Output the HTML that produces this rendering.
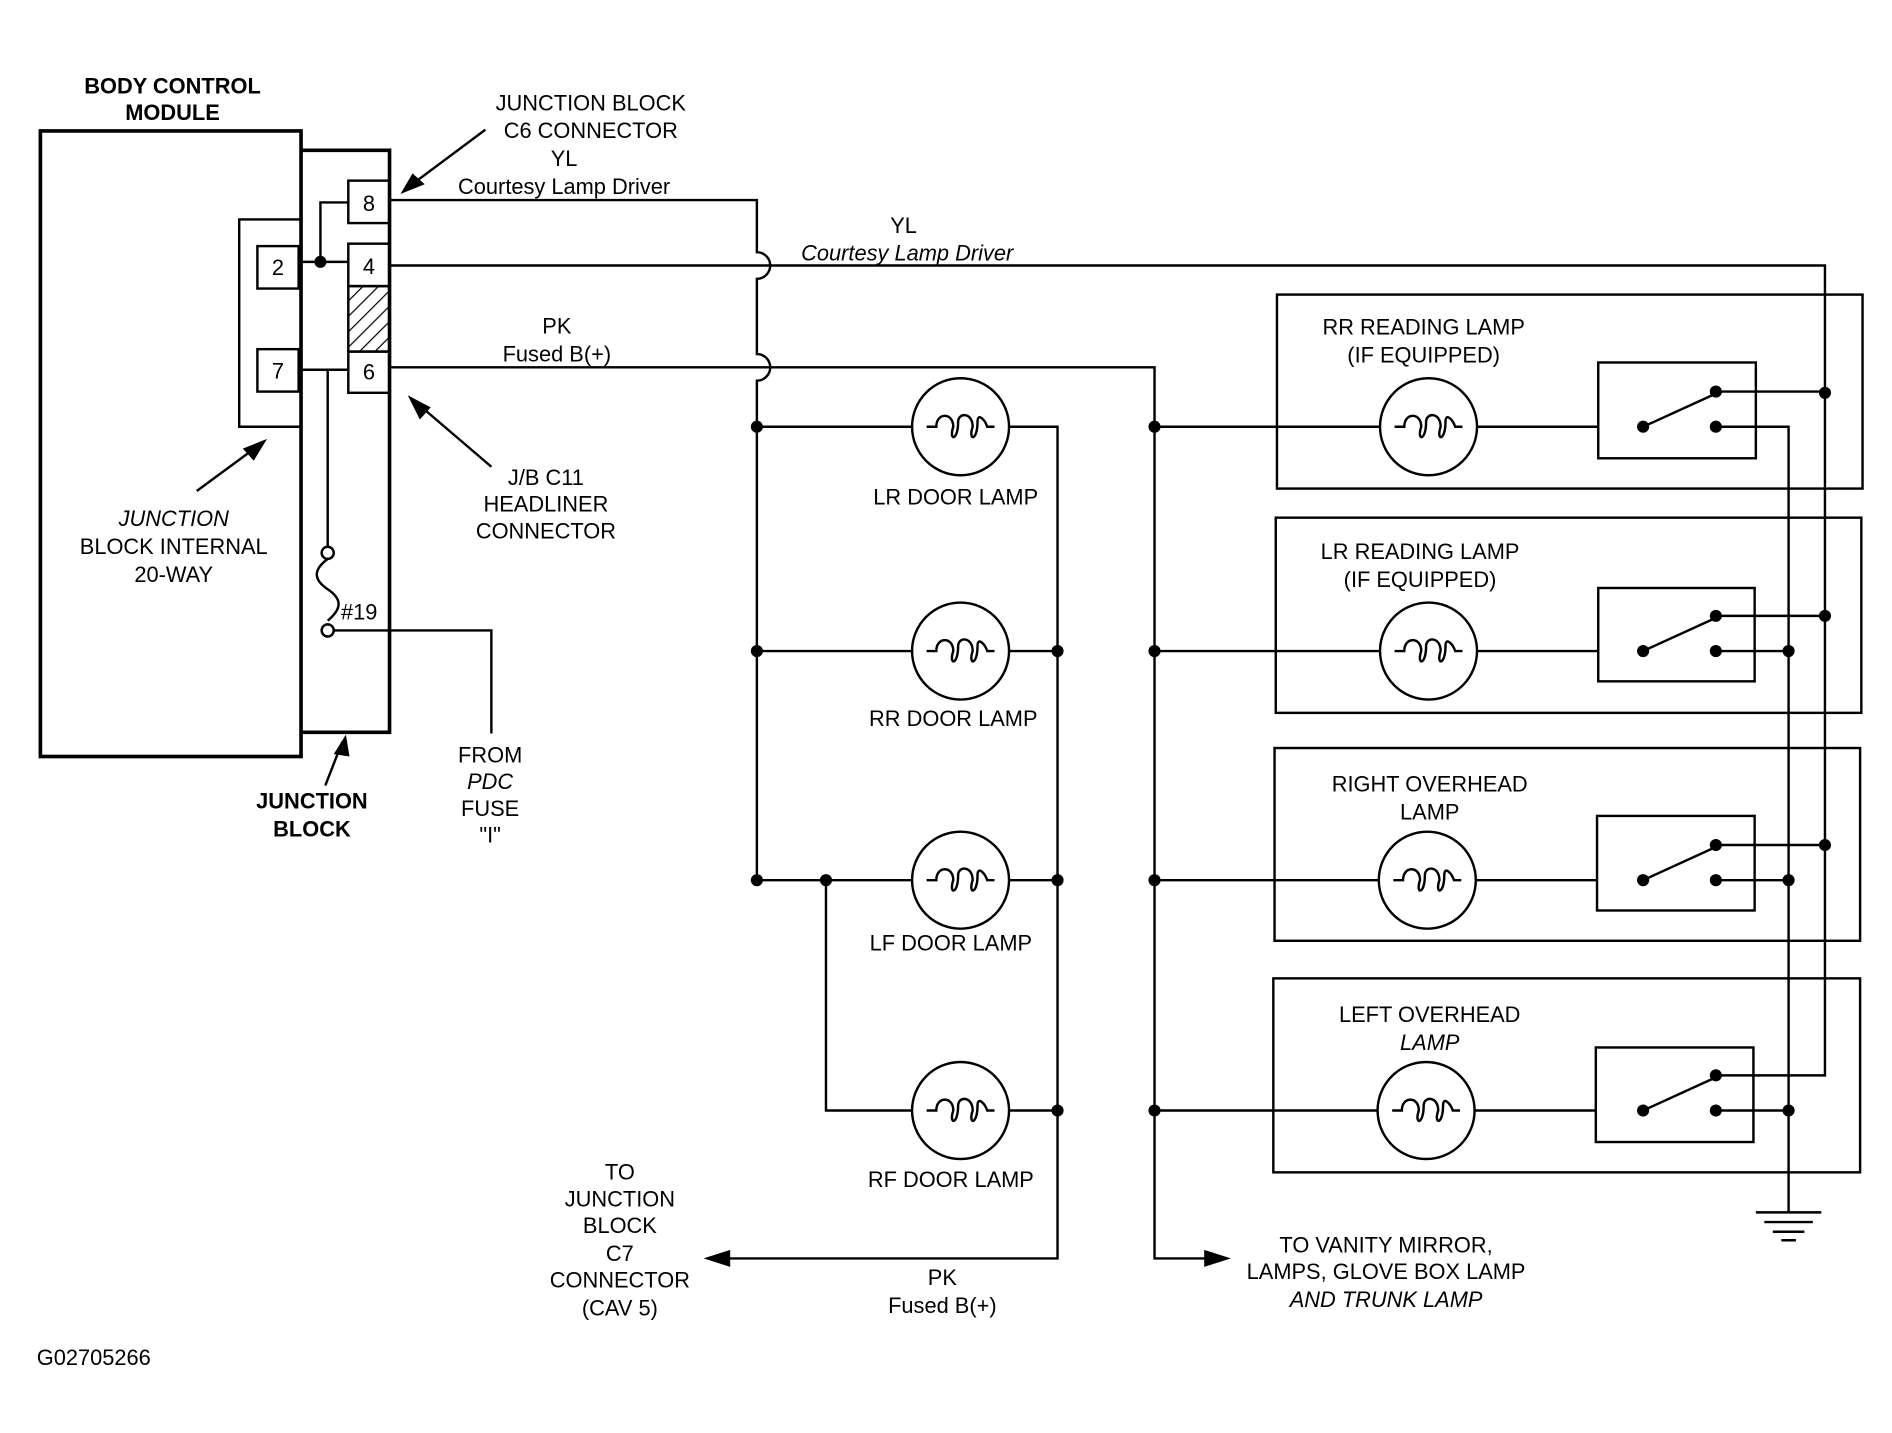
<!DOCTYPE html>
<html><head><meta charset="utf-8"><style>
html,body{margin:0;padding:0;background:#fff}
svg{display:block}
text{font-family:"Liberation Sans",Arial,sans-serif;font-size:18px;fill:#000;text-anchor:middle}
.b{font-weight:bold}
.i{font-style:italic}
</style></head><body>
<svg width="1892" height="1433" viewBox="0 0 1560 1182" xmlns="http://www.w3.org/2000/svg">
<defs>
<pattern id="h" width="9" height="9" patternUnits="userSpaceOnUse" patternTransform="rotate(45)"><line x1="0" y1="0" x2="0" y2="9" stroke="#000" stroke-width="2"/></pattern>
<g id="coil" fill="none" stroke="#000" stroke-width="2"><path d="M-28 0 H-20 C-20 -12 -6 -12 -6 0 C-10 12 -2 12 -2 -4 C-2 -12 10 -12 10 0 C6 12 14 12 14 -4 C14 -12 20 -6 22 0 H28"/></g>
</defs>
<g fill="none" stroke="#000" stroke-width="2">
<!-- BCM -->
<rect x="33" y="108" width="215" height="516" stroke-width="3"/>
<path d="M248 124 H321 V604 H248" stroke-width="3"/>
<path d="M248 181 H197 V352 H248"/>
<rect x="212" y="203" width="34" height="35"/>
<rect x="212" y="288" width="34" height="35"/>
<rect x="287" y="149" width="34" height="35"/>
<rect x="287" y="201" width="34" height="35"/>
<rect x="287" y="236" width="34" height="54" fill="url(#h)"/>
<rect x="287" y="290" width="34" height="34"/>
<path d="M246 216 H287 M264 216 V167 H287"/>
<path d="M246 305 H287 M270 305 V450"/>
<circle cx="270" cy="456" r="5"/>
<path d="M270 461 C258 470 258 478 270 486 C282 494 282 502 270 512"/>
<circle cx="270" cy="520" r="5"/>
<path d="M275 520 H405 V605"/>
<!-- main wires -->
<path d="M321 165 H624 V208 A11 11 0 0 1 624 230 V292 A11 11 0 0 1 624 314 V726"/>
<path d="M321 219 H1505 V887 H1415"/>
<path d="M321 303 H952 V1038 H1000"/>
<path d="M624 352 H752 M832 352 H872 V1038 H600"/>
<path d="M624 537 H752 M832 537 H872"/>
<path d="M624 726 H752 M832 726 H872"/>
<path d="M681 726 V916 H752 M832 916 H872"/>
<!-- arrows lines -->
<path d="M400 107 L337 154 M405 385 L343 332 M162 405 L215 366 M268 648 L282 612"/>
<!-- lamps door -->
<circle cx="792" cy="352" r="40"/><circle cx="792" cy="537" r="40"/><circle cx="792" cy="726" r="40"/><circle cx="792" cy="916" r="40"/>
<!-- right boxes -->
<rect x="1053" y="243" width="483" height="160"/>
<rect x="1052" y="427" width="483" height="161"/>
<rect x="1051" y="617" width="483" height="159"/>
<rect x="1050" y="807" width="484" height="160"/>
<circle cx="1178" cy="352" r="40"/><circle cx="1178" cy="537" r="40"/><circle cx="1177" cy="726" r="40"/><circle cx="1176" cy="916" r="40"/>
<rect x="1318" y="299" width="130" height="79"/>
<rect x="1318" y="485" width="129" height="77"/>
<rect x="1317" y="673" width="130" height="78"/>
<rect x="1316" y="864" width="130" height="78"/>
<path d="M952 352 H1138 M1218 352 H1318"/>
<path d="M952 537 H1138 M1218 537 H1318"/>
<path d="M952 726 H1137 M1217 726 H1317"/>
<path d="M952 916 H1136 M1216 916 H1316"/>
<path d="M1415 323 H1505 M1415 352 H1475 V1000"/>
<path d="M1415 508 H1505 M1415 537 H1475"/>
<path d="M1415 697 H1505 M1415 726 H1475"/>
<path d="M1415 916 H1475"/>
<path d="M1355 352 L1412 326 M1355 537 L1412 511 M1355 726 L1412 700 M1355 916 L1412 890"/>
<path d="M1448 1000 H1502 M1455 1008 H1495 M1462 1016 H1488 M1469 1023 H1481"/>
</g>
<g>
<use href="#coil" x="792" y="352"/><use href="#coil" x="792" y="537"/><use href="#coil" x="792" y="726"/><use href="#coil" x="792" y="916"/>
<use href="#coil" x="1178" y="352"/><use href="#coil" x="1178" y="537"/><use href="#coil" x="1177" y="726"/><use href="#coil" x="1176" y="916"/>
</g>
<g fill="#000">
<polygon points="330,160 350,152 340,143"/>
<polygon points="336,326 346,346 355,336"/>
<polygon points="220,362 200,370 209,380"/>
<polygon points="285,606 275,622 288,624"/>
<polygon points="580,1038 602,1031 602,1045"/>
<polygon points="1015,1038 993,1031 993,1045"/>
<circle cx="264" cy="216" r="5"/>
<circle cx="624" cy="352" r="5"/><circle cx="624" cy="537" r="5"/><circle cx="624" cy="726" r="5"/><circle cx="681" cy="726" r="5"/>
<circle cx="872" cy="537" r="5"/><circle cx="872" cy="726" r="5"/><circle cx="872" cy="916" r="5"/>
<circle cx="952" cy="352" r="5"/><circle cx="952" cy="537" r="5"/><circle cx="952" cy="726" r="5"/><circle cx="952" cy="916" r="5"/>
<circle cx="1505" cy="324" r="5"/><circle cx="1505" cy="508" r="5"/><circle cx="1505" cy="697" r="5"/>
<circle cx="1475" cy="537" r="5"/><circle cx="1475" cy="726" r="5"/><circle cx="1475" cy="916" r="5"/>
<circle cx="1355" cy="352" r="5"/><circle cx="1415" cy="323" r="5"/><circle cx="1415" cy="352" r="5"/>
<circle cx="1355" cy="537" r="5"/><circle cx="1415" cy="508" r="5"/><circle cx="1415" cy="537" r="5"/>
<circle cx="1355" cy="726" r="5"/><circle cx="1415" cy="697" r="5"/><circle cx="1415" cy="726" r="5"/>
<circle cx="1355" cy="916" r="5"/><circle cx="1415" cy="887" r="5"/><circle cx="1415" cy="916" r="5"/>
</g>
<text class="b" x="142" y="77">BODY CONTROL</text>
<text class="b" x="142" y="99">MODULE</text>
<text x="229" y="227">2</text><text x="229" y="312">7</text>
<text x="304" y="174">8</text><text x="304" y="226">4</text><text x="304" y="313">6</text>
<text x="487" y="91">JUNCTION BLOCK</text>
<text x="487" y="114">C6 CONNECTOR</text>
<text x="465" y="137">YL</text>
<text x="465" y="160">Courtesy Lamp Driver</text>
<text x="745" y="192">YL</text>
<text class="i" x="748" y="215">Courtesy Lamp Driver</text>
<text x="459" y="275">PK</text>
<text x="459" y="298">Fused B(+)</text>
<text x="450" y="400">J/B C11</text>
<text x="450" y="422">HEADLINER</text>
<text x="450" y="444">CONNECTOR</text>
<text class="i" x="143" y="434">JUNCTION</text>
<text x="143" y="457">BLOCK INTERNAL</text>
<text x="143" y="480">20-WAY</text>
<text x="296" y="511" font-size="17">#19</text>
<text class="b" x="257" y="667">JUNCTION</text>
<text class="b" x="257" y="690">BLOCK</text>
<text x="404" y="629">FROM</text>
<text class="i" x="404" y="651">PDC</text>
<text x="404" y="673">FUSE</text>
<text x="404" y="695">"I"</text>
<text x="788" y="416">LR DOOR LAMP</text>
<text x="786" y="599">RR  DOOR LAMP</text>
<text x="784" y="784">LF DOOR LAMP</text>
<text x="784" y="979">RF DOOR LAMP</text>
<text x="1174" y="276">RR READING LAMP</text>
<text x="1174" y="299">(IF EQUIPPED)</text>
<text x="1171" y="461">LR READING LAMP</text>
<text x="1171" y="484">(IF EQUIPPED)</text>
<text x="1179" y="653">RIGHT OVERHEAD</text>
<text x="1179" y="676">LAMP</text>
<text x="1179" y="843">LEFT OVERHEAD</text>
<text class="i" x="1179" y="866">LAMP</text>
<text x="511" y="973">TO</text>
<text x="511" y="995">JUNCTION</text>
<text x="511" y="1017">BLOCK</text>
<text x="511" y="1040">C7</text>
<text x="511" y="1062">CONNECTOR</text>
<text x="511" y="1085">(CAV 5)</text>
<text x="777" y="1060">PK</text>
<text x="777" y="1083">Fused B(+)</text>
<text x="1143" y="1033">TO VANITY MIRROR,</text>
<text x="1143" y="1055">LAMPS, GLOVE BOX LAMP</text>
<text class="i" x="1143" y="1078">AND TRUNK LAMP</text>
<text x="30" y="1126" style="text-anchor:start">G02705266</text>
</svg>
</body></html>
